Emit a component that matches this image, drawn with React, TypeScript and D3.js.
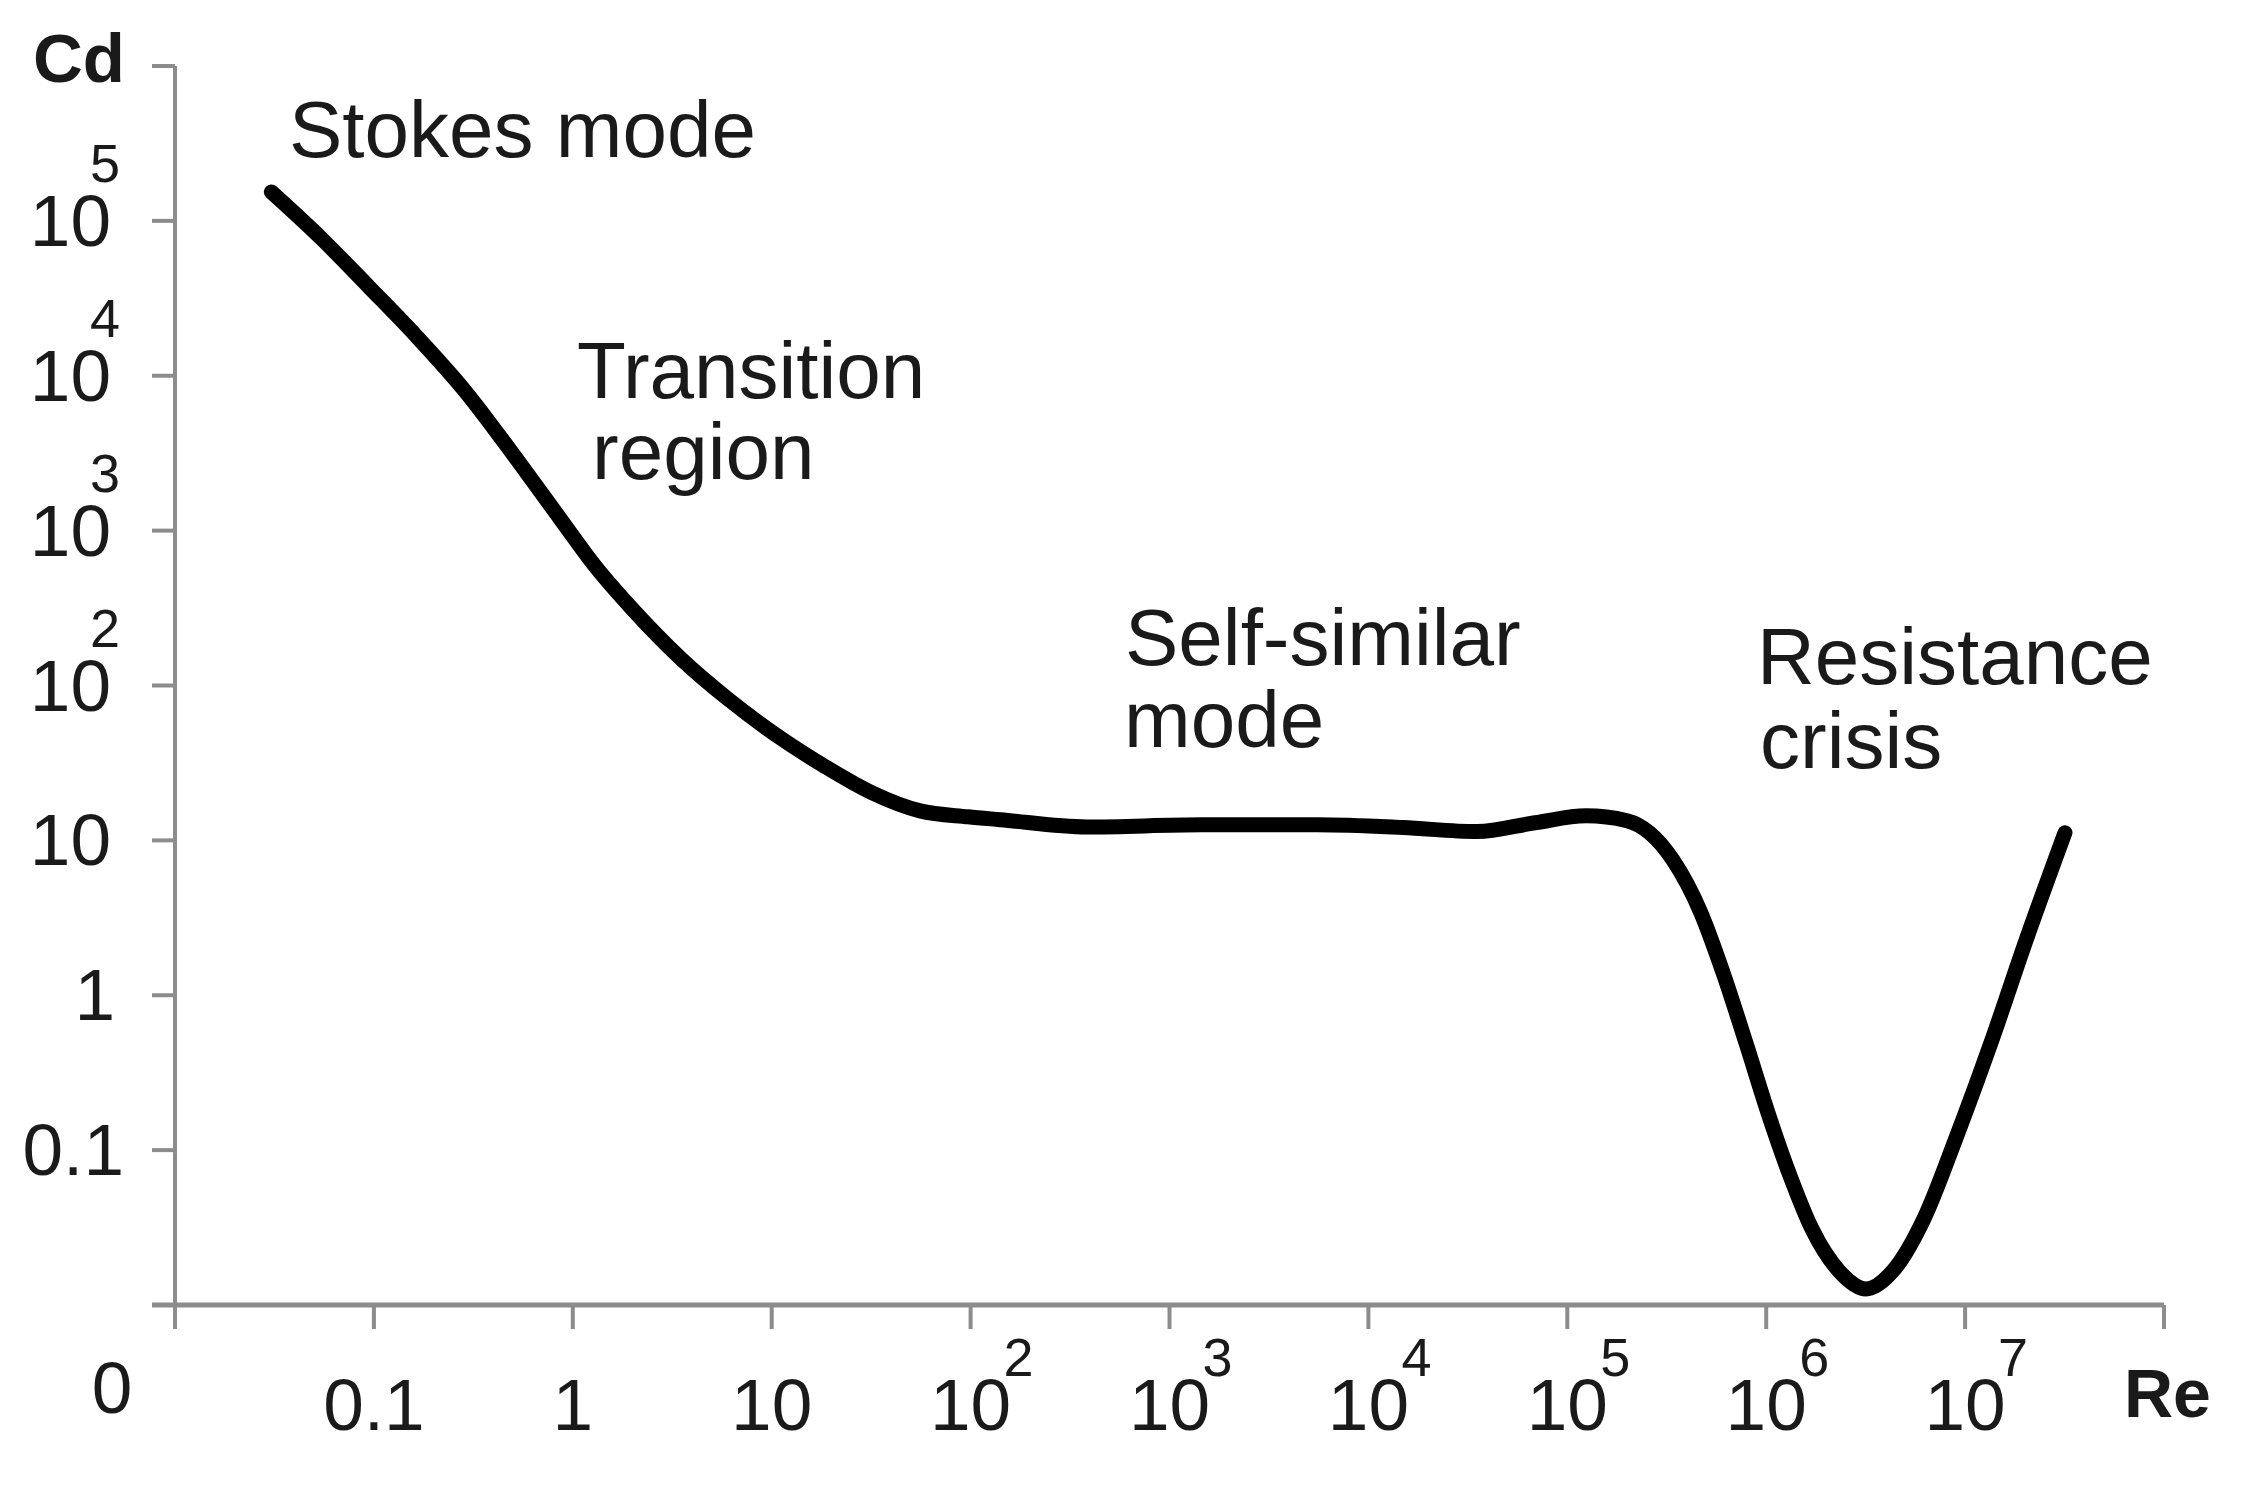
import React from 'react';
import * as d3 from 'd3';

// Drag coefficient curve: Reynolds number vs Cd
const reValues = [
  0.0305, 0.0548, 0.0955, 0.165, 0.287, 0.5, 0.873, 1.28, 2.01, 3.5,
  6.03, 10.5, 18.3, 31.9, 55.7, 97.0, 141, 385, 1455, 5521,
  14930, 35160, 68870, 124200, 199500, 339600, 469900, 606700, 790700, 1021000,
  1318000, 1698000, 2323000, 3177000, 4335000, 6209000, 8892000, 13490000, 20460000, 31770000,
];
const cdValues = [
  153800, 76380, 36900, 17780, 7980, 3126, 1172, 601, 308, 149,
  81.8, 48.0, 30.3, 20.3, 15.5, 14.2, 13.6, 12.2, 12.6, 12.6,
  12.1, 11.4, 13.0, 14.4, 13.4, 7.48, 3.40, 1.40, 0.493, 0.174,
  0.0682, 0.0310, 0.0166, 0.0127, 0.0166, 0.0361, 0.115, 0.493, 2.35, 11.2,
];

const xTickValues = [0.01, 0.1, 1, 10, 100, 1e3, 1e4, 1e5, 1e6, 1e7, 1e8];
const xTickBase = ['0', '0.1', '1', '10', '10', '10', '10', '10', '10', '10', ''];
const xTickExp = ['', '', '', '', '2', '3', '4', '5', '6', '7', ''];

const yTickValues = [0.1, 1, 10, 100, 1e3, 1e4, 1e5, 1e6];
const yTickBase = ['0.1', '1', '10', '10', '10', '10', '10', ''];
const yTickExp = ['', '', '', '2', '3', '4', '5', ''];

const annotationLines = [
  'Stokes mode',
  'Transition',
  'region',
  'Self-similar',
  'mode',
  'Resistance',
  'crisis',
];

const W = 2243;
const H = 1486;
const X0 = 175;
const X1 = 2164;
const Y0 = 1305;
const Y1 = 66;
const AXIS = '#8c8c8c';
const TXT = '#1a1a1a';
const FONT = '"Liberation Sans", Arial, Helvetica, sans-serif';

export default function App() {
  const x = d3.scaleLog().domain([0.01, 1e8]).range([X0, X1]);
  const y = d3.scaleLog().domain([0.01, 1e6]).range([Y0, Y1]);

  const data = reValues.map((re, i) => ({ re, cd: cdValues[i] }));
  const line = d3
    .line<{ re: number; cd: number }>()
    .x((d) => x(d.re))
    .y((d) => y(d.cd))
    .curve(d3.curveMonotoneX);

  const annPos = [
    [289, 157],
    [577, 398],
    [592, 479],
    [1125, 665],
    [1124, 747],
    [1757, 684],
    [1760, 768],
  ];

  return (
    <svg
      width={W}
      height={H}
      style={{ position: 'absolute', left: 0, top: 0, background: '#fff' }}
      fontFamily={FONT}
    >
      <rect x={0} y={0} width={W} height={H} fill="#fff" />

      {/* Y axis */}
      <line x1={X0} x2={X0} y1={y(1e6)} y2={Y0 + 24} stroke={AXIS} strokeWidth={4} />
      {yTickValues.map((v) => (
        <line key={'yt' + v} x1={X0 - 23} x2={X0} y1={y(v)} y2={y(v)} stroke={AXIS} strokeWidth={4} />
      ))}

      {/* X axis */}
      <line x1={X0 - 23} x2={X1} y1={Y0} y2={Y0} stroke={AXIS} strokeWidth={5} />
      {xTickValues.map((v) => (
        <line key={'xt' + v} x1={x(v)} x2={x(v)} y1={Y0} y2={Y0 + 24} stroke={AXIS} strokeWidth={4} />
      ))}

      {/* Y tick labels */}
      {yTickValues.map((v, i) => {
        if (!yTickBase[i]) return null;
        const ty = y(v);
        const dx = yTickBase[i] === '0.1' ? 13 : yTickBase[i] === '1' ? 4 : 0;
        return (
          <g key={'yl' + v}>
            <text x={111 + dx} y={ty + 25} textAnchor="end" fontSize={73} fill={TXT}>
              {yTickBase[i]}
            </text>
            {yTickExp[i] && (
              <text x={90} y={ty - 39} textAnchor="start" fontSize={54} fill={TXT}>
                {yTickExp[i]}
              </text>
            )}
          </g>
        );
      })}

      {/* X tick labels */}
      {xTickValues.map((v, i) => {
        if (!xTickBase[i]) return null;
        const tx = x(v);
        if (i === 0) {
          return (
            <text key={'xl' + v} x={tx - 63} y={1413} textAnchor="middle" fontSize={73} fill={TXT}>
              {xTickBase[i]}
            </text>
          );
        }
        return (
          <g key={'xl' + v}>
            <text x={tx} y={1430} textAnchor="middle" fontSize={73} fill={TXT}>
              {xTickBase[i]}
            </text>
            {xTickExp[i] && (
              <text x={tx + 33} y={1376} textAnchor="start" fontSize={54} fill={TXT}>
                {xTickExp[i]}
              </text>
            )}
          </g>
        );
      })}

      {/* Axis titles */}
      <text x={33} y={82} fontSize={69} fontWeight="bold" fill={TXT}>
        Cd
      </text>
      <text x={2124} y={1417} fontSize={68} fontWeight="bold" fill={TXT}>
        Re
      </text>

      {/* Region annotations */}
      {annotationLines.map((t, i) => (
        <text key={'a' + i} x={annPos[i][0]} y={annPos[i][1]} fontSize={80} fill={TXT}>
          {t}
        </text>
      ))}

      {/* Curve */}
      <path
        d={line(data) || ''}
        fill="none"
        stroke="#000"
        strokeWidth={15}
        strokeLinecap="round"
        strokeLinejoin="round"
      />
    </svg>
  );
}
